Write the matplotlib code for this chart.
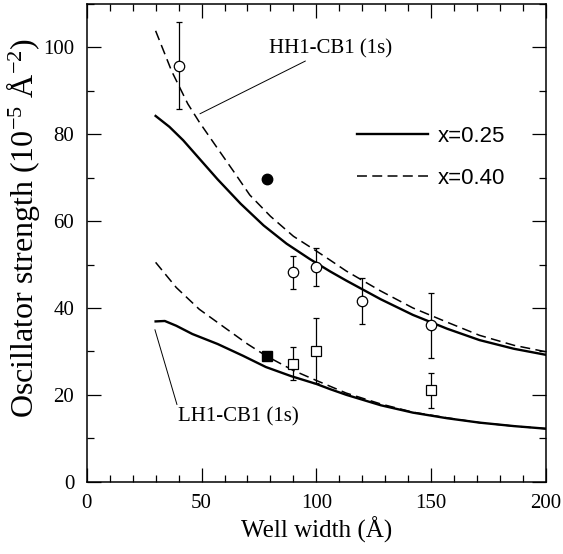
import numpy as np
import matplotlib
matplotlib.use("Agg")
import matplotlib.pyplot as plt
from matplotlib.ticker import MultipleLocator
from matplotlib.lines import Line2D

plt.rcParams["font.family"] = ["Liberation Serif", "DejaVu Serif"]
plt.rcParams["mathtext.fontset"] = "custom"
plt.rcParams["mathtext.rm"] = "Liberation Serif"
plt.rcParams["mathtext.default"] = "regular"

# HH1-CB1 (1s) theory curves
hh_x25 = [30, 36, 42, 49, 57, 67, 77, 87, 97, 106, 113, 128, 142, 157, 171, 186, 200]
hh_y25 = [84.2, 81.7, 78.6, 74.4, 69.6, 64.0, 59.0, 54.8, 51.3, 48.4, 46.3, 42.0, 38.4, 35.2, 32.6, 30.6, 29.2]
hh_x40 = [30, 37, 44, 49, 57, 64, 71, 80, 90, 100, 106, 113, 128, 142, 157, 171, 186, 200]
hh_y40 = [103.8, 94.5, 87.0, 82.8, 76.7, 71.4, 66.0, 61.1, 56.5, 53.1, 51.0, 48.5, 43.9, 40.0, 36.7, 33.7, 31.4, 29.9]

# LH1-CB1 (1s) theory curves
lh_x25 = [30, 34, 39, 46, 57, 68, 78, 89, 100, 106, 113, 128, 142, 157, 171, 186, 200]
lh_y25 = [36.9, 37.0, 35.9, 34.0, 31.7, 29.0, 26.4, 24.3, 22.5, 21.3, 20.0, 17.6, 15.9, 14.6, 13.6, 12.8, 12.2]
lh_x40 = [30, 39, 49, 60, 70, 78, 90, 100, 113, 128, 142, 157, 171, 186, 200]
lh_y40 = [50.5, 44.7, 39.7, 35.5, 31.7, 29.0, 25.6, 23.3, 20.4, 17.9, 16.0, 14.7, 13.6, 12.8, 12.2]

# measured points
hh_exp_x = [40, 90, 100, 120, 150]
hh_exp_y = [95.8, 48.2, 49.5, 41.5, 36.0]
hh_exp_err = [10.0, 3.8, 4.4, 5.3, 7.5]
lh_exp_x = [90, 100, 150]
lh_exp_y = [27.2, 30.2, 21.0]
lh_exp_err = [3.9, 7.4, 4.0]
hh_fill_x, hh_fill_y = [78.5], [69.7]
lh_fill_x, lh_fill_y = [78.5], [29.0]

fig = plt.figure(figsize=(5.63, 5.54), dpi=100)
ax = fig.add_axes([0.154, 0.1305, 0.816, 0.8625])

dash = (0, (6.5, 3.5))
ax.plot(hh_x25, hh_y25, color="black", lw=1.7)
ax.plot(hh_x40, hh_y40, color="black", lw=1.1, linestyle=dash)
ax.plot(lh_x25, lh_y25, color="black", lw=1.7)
ax.plot(lh_x40, lh_y40, color="black", lw=1.1, linestyle=dash)

ax.errorbar(hh_exp_x, hh_exp_y, yerr=hh_exp_err, fmt="o", mfc="white", mec="black",
            ms=7.5, mew=0.9, ecolor="black", elinewidth=0.9, capsize=2.3, capthick=0.9)
ax.errorbar(lh_exp_x, lh_exp_y, yerr=lh_exp_err, fmt="s", mfc="white", mec="black",
            ms=6.8, mew=0.9, ecolor="black", elinewidth=0.9, capsize=2.3, capthick=0.9)
ax.plot(hh_fill_x, hh_fill_y, "o", color="black", ms=7.5)
ax.plot(lh_fill_x, lh_fill_y, "s", color="black", ms=6.5)

# labels for the curve pairs
ax.annotate("HH1-CB1 (1s)", xy=(49.3, 84.7), xytext=(79.2, 99.7), fontsize=15,
            va="center", ha="left",
            arrowprops=dict(arrowstyle="-", color="black", lw=0.7, shrinkA=0, shrinkB=0))
ax.annotate("LH1-CB1 (1s)", xy=(29.7, 35.0), xytext=(39.9, 14.9), fontsize=15,
            va="center", ha="left",
            arrowprops=dict(arrowstyle="-", color="black", lw=0.7, shrinkA=0, shrinkB=0,
                            relpos=(0, 0.9)))

handles = [Line2D([], [], color="black", lw=1.7),
           Line2D([], [], color="black", lw=1.1, linestyle=dash)]
ax.legend(handles, ["x=0.25", "x=0.40"], frameon=False, loc="upper left",
          bbox_to_anchor=(0.588, 0.745), borderaxespad=0, borderpad=0,
          handlelength=3.2, handletextpad=0.45, labelspacing=0.95,
          prop={"family": "Liberation Sans", "size": 16})

ax.set_xlim(0, 200)
ax.set_ylim(0, 110)
ax.xaxis.set_major_locator(MultipleLocator(50))
ax.xaxis.set_minor_locator(MultipleLocator(10))
ax.yaxis.set_major_locator(MultipleLocator(20))
ax.yaxis.set_minor_locator(MultipleLocator(10))
ax.tick_params(which="both", direction="in", top=True, right=True, labelsize=15, width=0.9)
ax.tick_params(which="major", length=10, pad=9)
ax.tick_params(which="minor", length=5)
for s in ax.spines.values():
    s.set_linewidth(1.1)

ax.set_xlabel("Well width (Å)", fontsize=18)
ax.set_ylabel("Oscillator strength (10$^{-5}$ Å$^{-2}$)", fontsize=23)
ax.xaxis.set_label_coords(0.5, -0.072)
ax.yaxis.set_label_coords(-0.097, 0.53)

plt.savefig("out.png", dpi=100)
